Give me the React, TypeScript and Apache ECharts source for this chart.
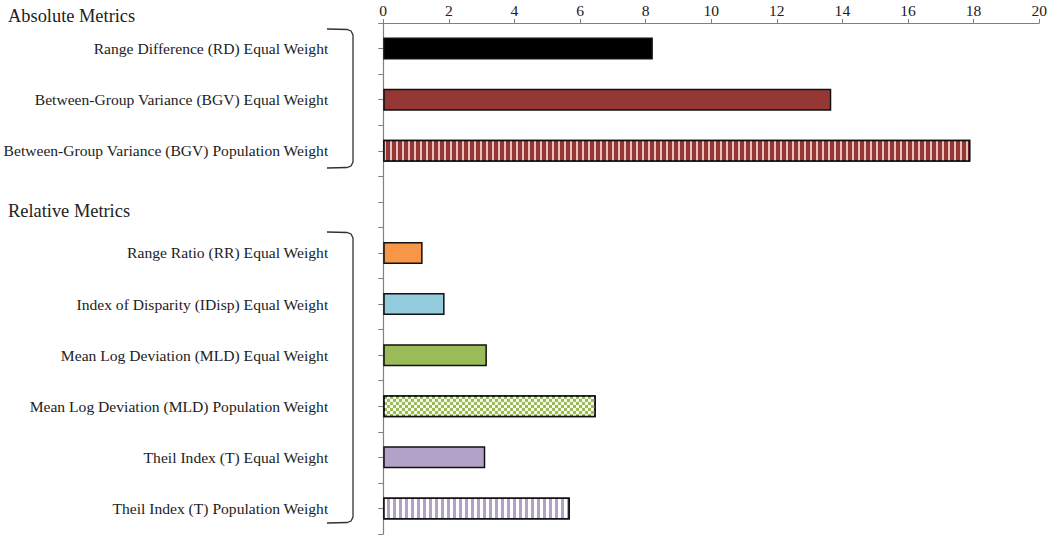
import React, { useEffect, useRef } from "react";
import * as echarts from "echarts";

const categories = [
  "Range Difference (RD) Equal Weight",
  "Between-Group Variance (BGV) Equal Weight",
  "Between-Group Variance (BGV) Population Weight",
  "",
  "Range Ratio (RR) Equal Weight",
  "Index of Disparity (IDisp) Equal Weight",
  "Mean Log Deviation (MLD) Equal Weight",
  "Mean Log Deviation (MLD) Population Weight",
  "Theil Index (T) Equal Weight",
  "Theil Index (T) Population Weight",
];
const values: (number | null)[] = [8.22, 13.66, 17.9, null, 1.2, 1.87, 3.16, 6.48, 3.11, 5.69];
const barColors = ["#000000", "#953735", "#953735", "#ffffff", "#F79646", "#93CDDD", "#9BBB59", "#9BBB59", "#B3A2C7", "#B3A2C7"];
const patterns = ["none", "none", "vstripe-thin", "none", "none", "none", "none", "checker", "none", "vstripe"];
const groupTitles = ["Absolute Metrics", "Relative Metrics"];
const xTicks = { min: 0, max: 20, interval: 2 };

const FONT = "'Liberation Serif', 'DejaVu Serif', serif";

function decalFor(p: string): any {
  if (p === "vstripe-thin") {
    return { symbol: "rect", symbolSize: 1, color: "rgba(255,225,225,0.8)", dashArrayX: [1.5, 4], dashArrayY: [10, 0], rotation: 0 };
  }
  if (p === "vstripe") {
    return { symbol: "rect", symbolSize: 1, color: "rgba(255,255,255,1)", dashArrayX: [2.5, 2.6], dashArrayY: [10, 0], rotation: 0 };
  }
  if (p === "checker") {
    return { symbol: "rect", symbolSize: 1, color: "rgba(255,255,255,0.9)", dashArrayX: [[3, 3], [0, 3, 3, 0]], dashArrayY: [3, 0], rotation: 0 };
  }
  return undefined;
}

export default function App() {
  const ref = useRef<HTMLDivElement>(null);
  useEffect(() => {
    if (!ref.current) return;
    const chart = echarts.init(ref.current, undefined, { renderer: "svg" });
    const data = values.map((v, i) => {
      const d: any = {
        value: v,
        itemStyle: { color: barColors[i], borderColor: "#111", borderWidth: 1.5 },
      };
      const dec = decalFor(patterns[i]);
      if (dec) d.itemStyle.decal = dec;
      return d;
    });
    const bracket = (top: number, bottom: number) => ({
      type: "polyline",
      shape: {
        points: [
          [327, top],
          [347, top + 0.5],
          [351, top + 2],
          [353, top + 6],
          [353, bottom - 6],
          [351, bottom - 2],
          [347, bottom - 0.5],
          [327, bottom],
        ],
      },
      style: { stroke: "#333", lineWidth: 1.3, fill: null },
      silent: true,
    });
    chart.setOption({
      animation: false,
      grid: { left: 382, right: 8, top: 23, bottom: 1, containLabel: false },
      xAxis: {
        type: "value",
        position: "top",
        min: xTicks.min,
        max: xTicks.max,
        interval: xTicks.interval,
        axisLine: { show: true, lineStyle: { color: "#808080", width: 1.2 } },
        axisTick: { show: true, length: 4, lineStyle: { color: "#808080" } },
        splitLine: { show: false },
        axisLabel: { fontFamily: FONT, fontSize: 15.6, color: "#222", margin: 5 },
      },
      yAxis: [
        {
          type: "category",
          data: categories,
          inverse: true,
          axisLine: { show: true, lineStyle: { color: "#808080", width: 1.2 } },
          axisTick: { show: true, length: 5, interval: 0, lineStyle: { color: "#808080" } },
          axisLabel: { fontFamily: FONT, fontSize: 15.6, color: "#222", margin: 55, interval: 0 },
        },
        {
          type: "category",
          data: categories,
          inverse: true,
          position: "left",
          axisLine: { show: false },
          axisTick: { show: true, length: 5, interval: 0, alignWithLabel: true, lineStyle: { color: "#808080" } },
          axisLabel: { show: false },
        },
      ],
      series: [
        {
          type: "bar",
          yAxisIndex: 0,
          data,
          barWidth: 22,
        },
      ],
      graphic: [
        {
          type: "text",
          left: 8,
          top: 7,
          style: { text: groupTitles[0], font: `18.4px ${FONT}`, fill: "#222" },
          silent: true,
        },
        {
          type: "text",
          left: 8,
          top: 202,
          style: { text: groupTitles[1], font: `18.4px ${FONT}`, fill: "#222" },
          silent: true,
        },
        bracket(29, 168),
        bracket(232, 523),
      ],
    });
    return () => chart.dispose();
  }, []);
  return <div ref={ref} style={{ position: "absolute", left: 0, top: 0, width: 1050, height: 535 }} />;
}
